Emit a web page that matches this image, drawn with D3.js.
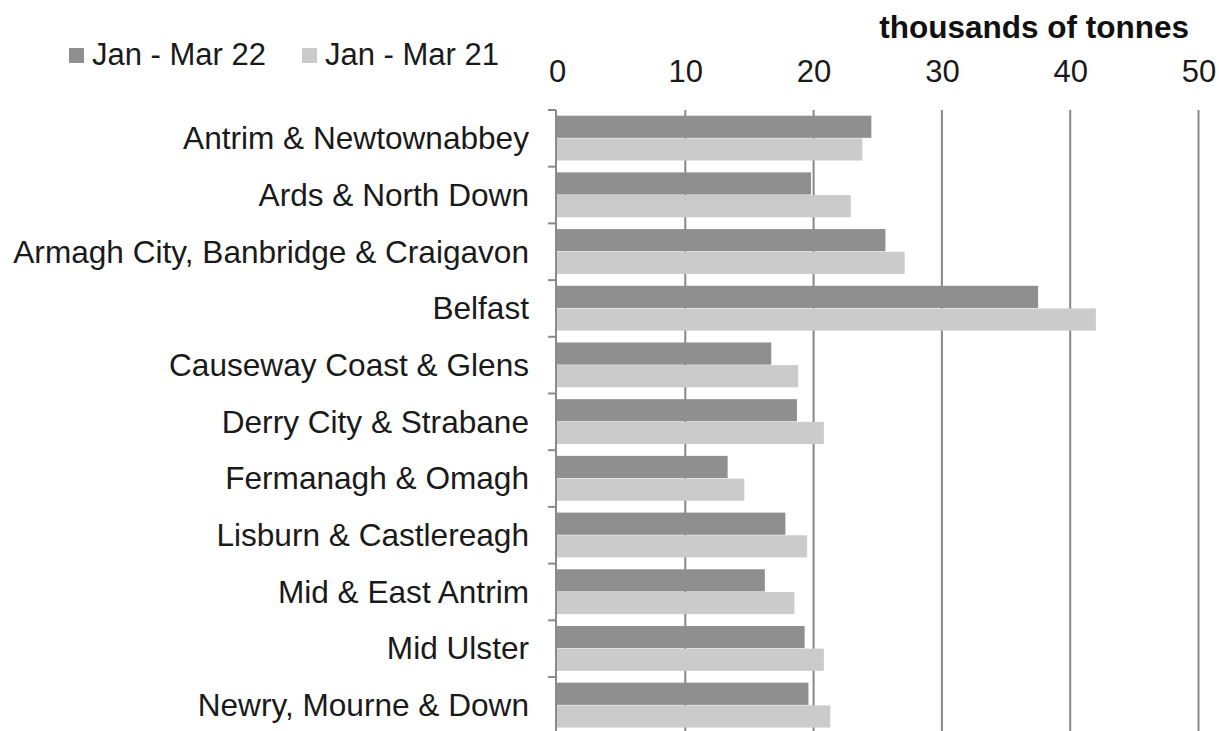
<!DOCTYPE html>
<html>
<head>
<meta charset="utf-8">
<script src="https://cdn.jsdelivr.net/npm/d3@7"></script>
<style>
  html, body { margin: 0; padding: 0; background: #fff; }
  svg { display: block; font-family: "Liberation Sans", Arial, sans-serif; }
</style>
</head>
<body>
<svg id="chart" width="1219" height="731"></svg>
<script>
const categories = [
  "Antrim & Newtownabbey",
  "Ards & North Down",
  "Armagh City, Banbridge & Craigavon",
  "Belfast",
  "Causeway Coast & Glens",
  "Derry City & Strabane",
  "Fermanagh & Omagh",
  "Lisburn & Castlereagh",
  "Mid & East Antrim",
  "Mid Ulster",
  "Newry, Mourne & Down"
];
const seriesNames = ["Jan - Mar 22", "Jan - Mar 21"];
const valuesJanMar22 = [24.5, 19.8, 25.6, 37.5, 16.7, 18.7, 13.3, 17.8, 16.2, 19.3, 19.6];
const valuesJanMar21 = [23.8, 22.9, 27.1, 42.0, 18.8, 20.8, 14.6, 19.5, 18.5, 20.8, 21.3];
const xTicks = [0, 10, 20, 30, 40, 50];
const axisTitle = "thousands of tonnes";

(function () {
const colors = ["#8f8f8f", "#cbcbcb"];
const gridColor = "#878787";
const textColor = "#1a1a1a";

const svg = d3.select("#chart");
const plotLeft = 557, plotRight = 1198.5, plotTop = 110;
const step = 56.7;
const plotBottom = plotTop + step * categories.length;

const x = d3.scaleLinear().domain([0, 50]).range([plotLeft, plotRight]);
const y = d3.scaleBand().domain(categories).range([plotTop, plotBottom]).paddingInner(0.2).paddingOuter(0.1);
const ySeries = d3.scaleBand().domain(seriesNames).range([0, y.bandwidth()]).padding(0);

// gridlines
svg.append("g").selectAll("line")
  .data(xTicks.filter(d => d > 0))
  .join("line")
  .attr("x1", d => x(d)).attr("x2", d => x(d))
  .attr("y1", plotTop).attr("y2", 731)
  .attr("stroke", gridColor).attr("stroke-width", 2);

// bars
const data = categories.map((c, i) => ({cat: c, vals: [valuesJanMar22[i], valuesJanMar21[i]]}));
const groups = svg.append("g").selectAll("g")
  .data(data).join("g")
  .attr("transform", d => `translate(0,${y(d.cat)})`);
groups.selectAll("rect")
  .data(d => d.vals.map((v, j) => ({name: seriesNames[j], v, j})))
  .join("rect")
  .attr("x", x(0))
  .attr("y", d => ySeries(d.name))
  .attr("width", d => x(d.v) - x(0))
  .attr("height", ySeries.bandwidth() - 0.5)
  .attr("fill", d => colors[d.j]);

// top axis labels
const xAxis = d3.axisTop(x).tickValues(xTicks).tickSize(0).tickPadding(28);
const gx = svg.append("g").attr("transform", `translate(0,${plotTop})`).call(xAxis);
gx.select(".domain").remove();
gx.selectAll("text")
  .attr("fill", textColor)
  .style("font-size", "31px")
  .style("font-family", '"Liberation Sans", Arial, sans-serif');

// left axis with labels
const yAxis = d3.axisLeft(y).tickSize(0).tickPadding(27);
const gy = svg.append("g").attr("transform", `translate(${plotLeft - 1},0)`).call(yAxis);
gy.select(".domain").remove();
gy.selectAll("text")
  .attr("fill", textColor)
  .attr("dy", "0.34em")
  .style("font-size", "31.6px")
  .style("font-family", '"Liberation Sans", Arial, sans-serif');

// left axis line and boundary ticks
const boundaries = categories.map(c => y(c) - y.step() * y.paddingOuter());
boundaries.push(plotBottom);
svg.append("line")
  .attr("x1", plotLeft - 1).attr("x2", plotLeft - 1)
  .attr("y1", plotTop).attr("y2", 731)
  .attr("stroke", "#8a8a8a").attr("stroke-width", 2);
svg.append("g").selectAll("line")
  .data(boundaries).join("line")
  .attr("x1", plotLeft - 9).attr("x2", plotLeft - 1)
  .attr("y1", d => d).attr("y2", d => d)
  .attr("stroke", "#8a8a8a").attr("stroke-width", 2);

// axis title
svg.append("text")
  .attr("x", 1189).attr("y", 38)
  .attr("text-anchor", "end")
  .attr("fill", "#111")
  .style("font-size", "31.5px")
  .style("font-weight", "bold")
  .text(axisTitle);

// legend
const legendX = [69, 302];
const lg = svg.append("g").selectAll("g")
  .data(seriesNames).join("g")
  .attr("transform", (d, i) => `translate(${legendX[i]},0)`);
lg.append("rect")
  .attr("x", 0).attr("y", 48).attr("width", 15).attr("height", 15)
  .attr("fill", (d, i) => colors[i]);
lg.append("text")
  .attr("x", 23).attr("y", 65)
  .attr("fill", textColor)
  .style("font-size", "31px")
  .text(d => d);
})();
</script>
</body>
</html>
